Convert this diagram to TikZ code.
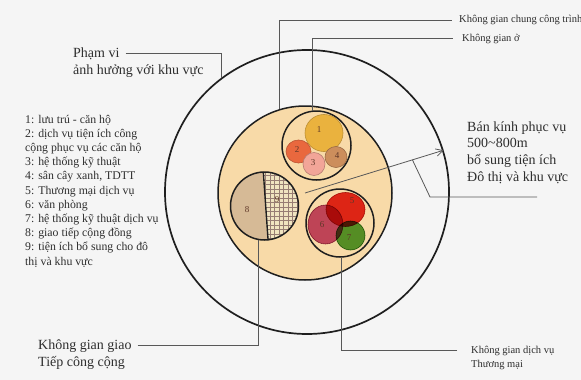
\documentclass[tikz,border=0pt]{standalone}
\usepackage{fontspec}
\setmainfont{Liberation Serif}
\usetikzlibrary{shapes.geometric,arrows.meta,positioning,calc}
\definecolor{bgpaper}{RGB}{245,245,245}
\definecolor{sand}{RGB}{248,218,168}
\definecolor{gold1}{RGB}{234,178,62}
\definecolor{coral2}{RGB}{233,104,62}
\definecolor{pink3}{RGB}{242,165,152}
\definecolor{brown4}{RGB}{204,142,92}
\definecolor{tan8}{RGB}{214,186,150}
\definecolor{grid9}{RGB}{240,228,192}
\definecolor{red5}{RGB}{228,44,32}
\definecolor{plum6}{RGB}{196,80,132}
\definecolor{green7}{RGB}{88,166,56}
\definecolor{leadgray}{RGB}{88,88,88}
\definecolor{numbrown}{RGB}{95,55,40}

\begin{document}
\begin{tikzpicture}[x=1pt,y=-1pt,
  ring/.style={circle,draw=black!88,line width=1.5pt,inner sep=0pt},
  blob/.style={ellipse,inner sep=0pt,line width=0.6pt},
  num/.style={font=\fontsize{9}{9}\selectfont,text=numbrown,inner sep=0pt},
  lead/.style={draw=leadgray,line width=0.8pt},
  lbl/.style={anchor=base west,inner sep=0pt,text=black!82},
  big/.style={lbl,font=\fontsize{14}{17}\selectfont},
  small/.style={lbl,font=\fontsize{10.5}{13.5}\selectfont},
  arr/.style={-{Straight Barb[length=2.4mm,width=2.6mm]},draw=leadgray,line width=0.8pt}]
\useasboundingbox[fill=bgpaper] (0,0) rectangle (581,380);
% rings
\node[ring,line width=1.7pt,minimum size=284pt] (outer) at (307,192) {};
\node[ring,fill=sand,minimum size=174pt] (inner) at (305,193) {};
% housing group
\node[ring,minimum size=69pt] (home) at (316.5,145.5) {};
\node[blob,fill=gold1,draw=gold1!80!black,minimum width=38pt,minimum height=37pt] (c1) at (324,133) {};
\node[blob,fill=coral2,draw=coral2!80!black,minimum width=25pt,minimum height=23pt] (c2) at (298.5,151.5) {};
\node[blob,fill=pink3,draw=pink3!75!black,minimum width=22pt,minimum height=23pt] (c3) at (314,164) {};
\node[blob,fill=brown4,draw=brown4!75!black,minimum width=22pt,minimum height=21pt] (c4) at (336,157) {};
% commons 8/9
\node[circle,inner sep=0pt,minimum size=68pt] (commons) at (264.5,206) {};
\begin{scope}
  \clip (commons.center) circle[radius=34pt];
  \fill[tan8] (commons.92) -- (commons.276) -- ++(-40pt,0pt) -- ++(0pt,80pt) -- cycle;
  \fill[grid9] (commons.92) -- (commons.276) -- ++(40pt,0pt) -- ++(0pt,80pt) -- cycle;
  \clip (commons.92) -- (commons.276) -- ++(40pt,0pt) -- ++(0pt,80pt) -- cycle;
  \draw[numbrown!65,line width=0.45pt] ($(commons.center)+(-36,-36)$) grid[step=4.5pt] ($(commons.center)+(36,36)$);
\end{scope}
\draw[black!88,line width=1.5pt] (commons.center) circle[radius=34pt];
\draw[black!88,line width=1.4pt] (commons.92) -- (commons.276);
% trade group
\node[ring,minimum size=68pt] (trade) at (340,223) {};
\begin{scope}[blend mode=multiply]
  \node[blob,fill=red5,draw=red5!80!black,minimum width=39pt,minimum height=34pt] (c5) at (345.5,209.5) {};
  \node[blob,fill=plum6,draw=plum6!80!black,minimum width=35pt,minimum height=39pt] (c6) at (325.5,224.5) {};
  \node[blob,fill=green7,draw=green7!80!black,minimum width=29pt,minimum height=29pt] (c7) at (350.5,235.5) {};
\end{scope}
\foreach \n/\at/\dx/\dy in {1/c1/-5/-3,2/c2/-1.5/-1.5,3/c3/-1/-1,4/c4/1/-1,5/c5/6.5/-8.5,6/c6/-3.5/0.5,7/c7/-1.5/2.5,8/commons/-17.5/4,9/commons/12.5/-6}
  \node[num] (n\n) at ($(\at)+(\dx,\dy)$) {\n};
% radius arrow
\draw[arr] (inner.center) -- coordinate[pos=0.775] (radFoot) (outer.17);
% labels (multi-line nodes sit on their last baseline)
\node[big] (lblPham) at (73,57) {Phạm vi};
\node[big] (lblPhamB) at ([yshift=-17pt]lblPham.base west) {ảnh hưởng với khu vực};
\node[lbl,align=left,font=\fontsize{11.8}{14.2}\selectfont] (legend) at (25,265) {1: lưu trú - căn hộ\\2: dịch vụ tiện ích công\\cộng phục vụ các căn hộ\\3: hệ thống kỹ thuật\\4: sân cây xanh, TDTT\\5: Thương mại dịch vụ\\6: văn phòng\\7: hệ thống kỹ thuật dịch vụ\\8: giao tiếp cộng đồng\\9: tiện ích bổ sung cho đô\\thị và khu vực};
\node[big] (lblGiao) at (38,349) {Không gian giao};
\node[big] (lblGiaoB) at ([yshift=-17pt]lblGiao.base west) {Tiếp công cộng};
\node[small] (lblChung) at (459,23) {Không gian chung công trình};
\node[small] (lblO) at (462,41) {Không gian ở};
\node[big,align=left,font=\fontsize{14}{16.6}\selectfont] (lblRadius) at (467,181) {Bán kính phục vụ\\500\textasciitilde800m\\bổ sung tiện ích\\Đô thị và khu vực};
\node[small] (lblTrade) at (471,353) {Không gian dịch vụ};
\node[small] (lblTradeB) at ([yshift=-14pt]lblTrade.base west) {Thương mại};
% leaders
\coordinate (radKnee) at (430,197);
\coordinate (radEnd) at (537,197);
\draw[lead] (radFoot) -- (radKnee) -- (radEnd);
\draw[lead] ([xshift=6pt]lblPham.east) -| (outer.127);
\draw[lead] (inner.107) |- ([xshift=-7pt]lblChung.west);
\draw[lead] (home.97) |- ([xshift=-9pt]lblO.west);
\draw[lead] ([xshift=6pt]lblGiao.east) -| (commons.259);
\draw[lead] ([xshift=-14pt]lblTrade.west) -| (trade.273);
\end{tikzpicture}
\end{document}
